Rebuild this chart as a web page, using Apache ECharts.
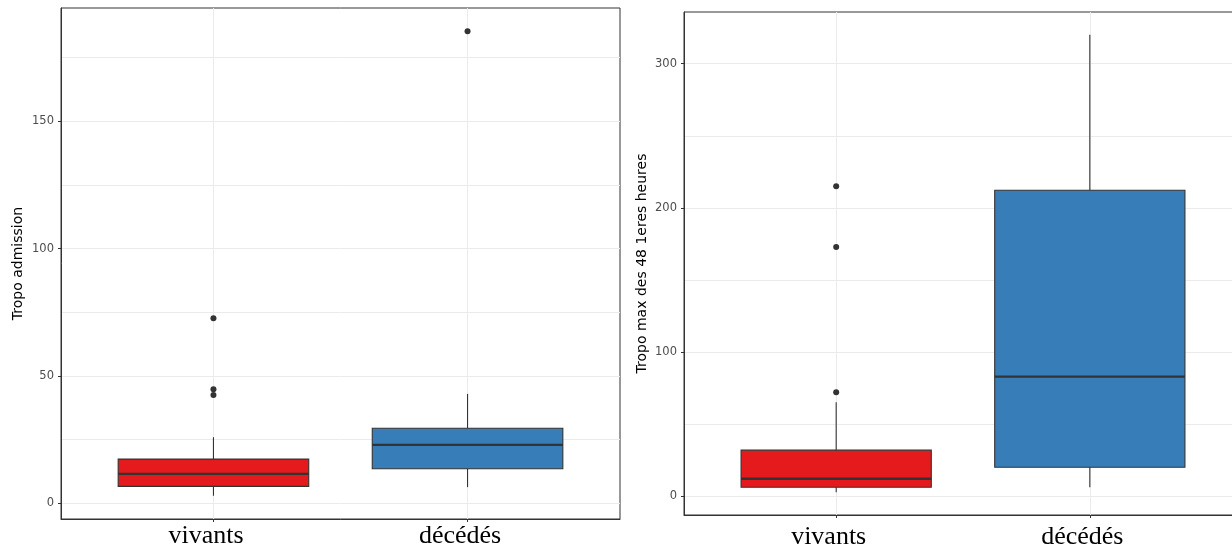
<!DOCTYPE html>
<html><head><meta charset="utf-8">
<script src="https://cdn.jsdelivr.net/npm/echarts@6/dist/echarts.min.js"></script>
<style>html,body{margin:0;padding:0;background:#fff;overflow:hidden}#c{width:1250px;height:547px}</style>
</head><body><div id="c"></div>
<script>
// ---- data ----
const categories = ['vivants', 'décédés'];
const categoryPositions = [1, 2];
// box stats: [lower whisker, Q1, median, Q3, upper whisker]
const admissionVivants = [3.0, 6.7, 11.6, 17.4, 26.0];
const admissionDecedes = [6.4, 13.6, 23.0, 29.5, 43.0];
const admissionOutliersVivants = [72.7, 44.8, 42.6];
const admissionOutliersDecedes = [185.4];
const max48Vivants = [3.0, 6.4, 12.3, 32.1, 65.3];
const max48Decedes = [6.4, 20.3, 83.1, 212.3, 320.0];
const max48OutliersVivants = [215.0, 173.0, 72.3];
const max48OutliersDecedes = [];
const admissionTicks = [0, 50, 100, 150];
const max48Ticks = [0, 100, 200, 300];
const yTitles = ['Tropo admission', 'Tropo max des 48 1eres heures'];

// ---- styles ----
const boxColors = ['#E41A1C', '#377EB8'];
const ink = '#333333';
const gridColor = '#ebebeb';

function expandRange(values) {
  const lo = Math.min(...values), hi = Math.max(...values);
  const pad = (hi - lo) * 0.05;
  return [lo - pad, hi + pad];
}

function renderBox(params, api) {
  const x = api.value(0);
  const p = [1, 2, 3, 4, 5].map(i => api.coord([x, api.value(i)]));
  const w = api.size([0.75, 0])[0];
  const cx = p[0][0];
  return {
    type: 'group',
    children: [
      { type: 'line', shape: { x1: cx, y1: p[0][1], x2: cx, y2: p[1][1] }, style: { stroke: ink, lineWidth: 1.1 } },
      { type: 'line', shape: { x1: cx, y1: p[3][1], x2: cx, y2: p[4][1] }, style: { stroke: ink, lineWidth: 1.1 } },
      { type: 'rect', shape: { x: cx - w / 2, y: p[3][1], width: w, height: p[1][1] - p[3][1] },
        style: { fill: boxColors[params.dataIndex], stroke: ink, lineWidth: 1.1 } },
      { type: 'line', shape: { x1: cx - w / 2, y1: p[2][1], x2: cx + w / 2, y2: p[2][1] }, style: { stroke: ink, lineWidth: 2.4 } }
    ]
  };
}

const panels = [
  { stats: [admissionVivants, admissionDecedes], outliers: [admissionOutliersVivants, admissionOutliersDecedes],
    ticks: admissionTicks, splitNumber: 5, grid: { left: 61, top: 8, width: 559, height: 511 }, nameGap: 36, xMargin: 4 },
  { stats: [max48Vivants, max48Decedes], outliers: [max48OutliersVivants, max48OutliersDecedes],
    ticks: max48Ticks, splitNumber: 3, grid: { left: 684, top: 12, width: 558, height: 503 }, nameGap: 35, xMargin: 9 }
];

const option = { animation: false, backgroundColor: '#ffffff', grid: [], xAxis: [], yAxis: [], series: [] };

panels.forEach((pn, i) => {
  const allVals = [].concat(...pn.stats, ...pn.outliers);
  const [ymin, ymax] = expandRange(allVals);
  option.grid.push(Object.assign({ show: true, borderColor: ink, borderWidth: 1, backgroundColor: '#fff',
    containLabel: false, outerBoundsMode: 'none' }, pn.grid));
  option.xAxis.push({
    gridIndex: i, type: 'value', min: 0.4, max: 2.6,
    axisLine: { show: true, onZero: false, lineStyle: { color: ink, width: 1 } },
    axisTick: { show: true, customValues: categoryPositions, length: 3, lineStyle: { color: ink } },
    axisLabel: { customValues: categoryPositions, formatter: v => categories[categoryPositions.indexOf(v)] || '',
      fontFamily: 'Liberation Serif', fontSize: 26, color: '#000', margin: pn.xMargin, padding: [0, 15, 0, 0] },
    splitLine: { show: true, lineStyle: { color: gridColor, width: 1 } }
  });
  option.yAxis.push({
    gridIndex: i, type: 'value', min: ymin, max: ymax, splitNumber: pn.splitNumber,
    name: yTitles[i], nameLocation: 'middle', nameGap: pn.nameGap,
    nameTextStyle: { fontFamily: 'DejaVu Sans', fontSize: 14, color: '#000' },
    axisLine: { show: true, onZero: false, lineStyle: { color: ink, width: 1 } },
    axisTick: { show: true, customValues: pn.ticks, length: 3, lineStyle: { color: ink } },
    axisLabel: { customValues: pn.ticks, fontFamily: 'DejaVu Sans', fontSize: 11.5, color: '#4d4d4d', margin: 7 },
    splitLine: { show: true, lineStyle: { color: gridColor, width: 1 } },
    minorTick: { show: false, splitNumber: 2 },
    minorSplitLine: { show: true, lineStyle: { color: gridColor, width: 1 } }
  });
  option.series.push({
    type: 'custom', xAxisIndex: i, yAxisIndex: i, renderItem: renderBox,
    encode: { x: 0, y: [1, 2, 3, 4, 5] },
    data: pn.stats.map((s, k) => [categoryPositions[k]].concat(s)),
    z: 3
  });
  const pts = [];
  pn.outliers.forEach((arr, k) => arr.forEach(v => pts.push([categoryPositions[k], v])));
  option.series.push({
    type: 'scatter', xAxisIndex: i, yAxisIndex: i, symbol: 'circle', symbolSize: 6,
    itemStyle: { color: ink, opacity: 1 }, data: pts, z: 4
  });
});

const chart = echarts.init(document.getElementById('c'), null, { renderer: 'canvas' });
chart.setOption(option);
</script>
</body></html>
